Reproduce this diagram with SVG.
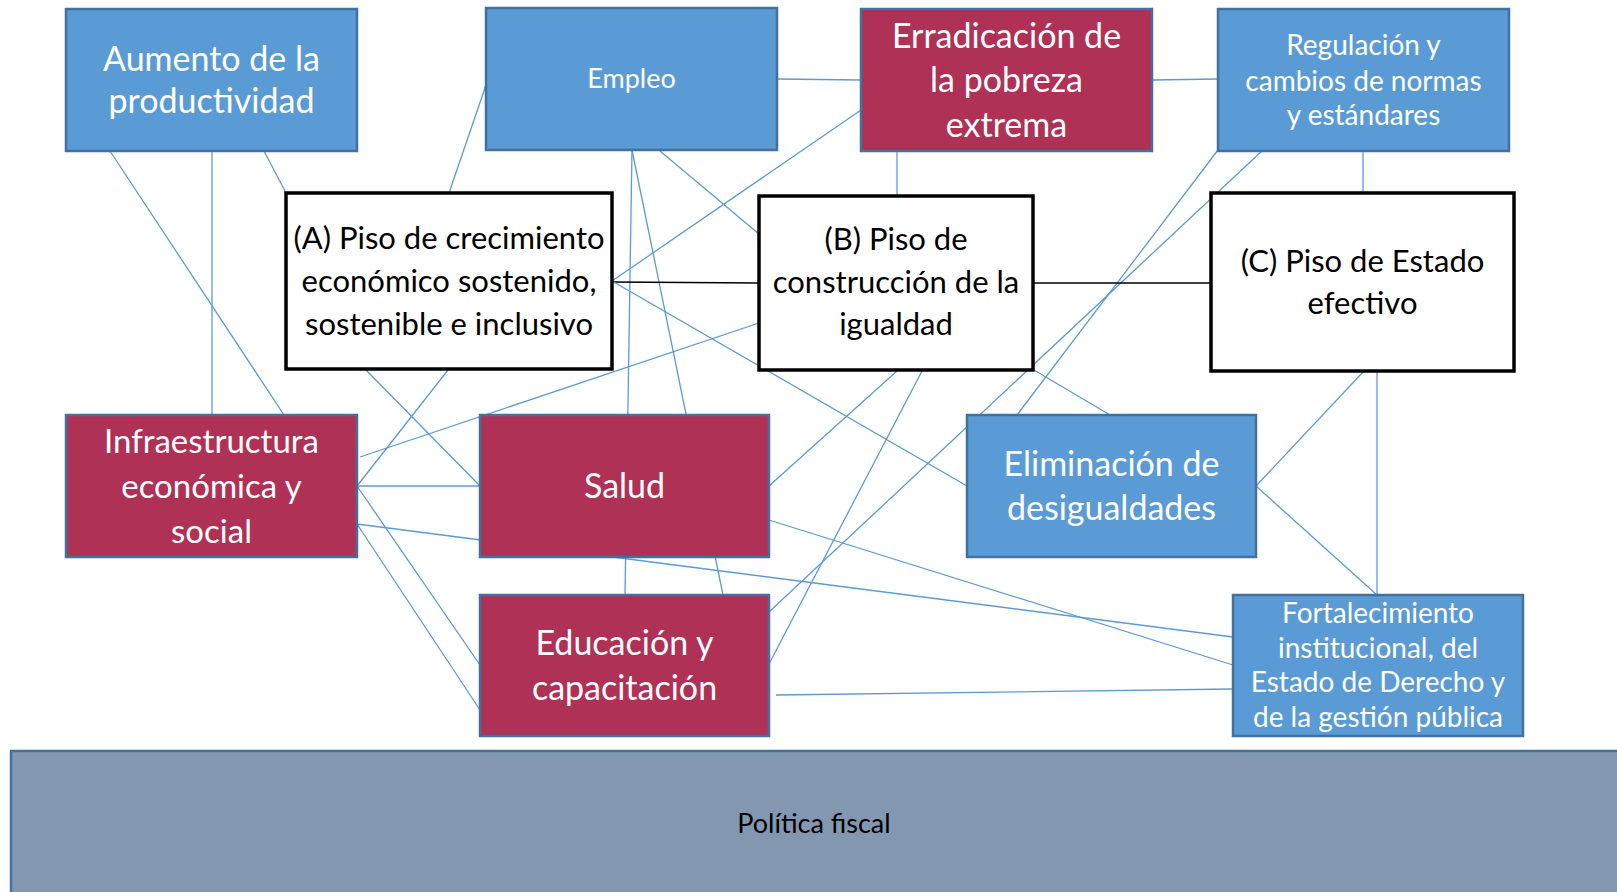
<svg xmlns="http://www.w3.org/2000/svg" width="1617" height="892" viewBox="0 0 1617 892">
<style>
.bl{fill:#5B9BD5;stroke:#41719C;stroke-width:2.5}
.rd{fill:#B03156;stroke:#41719C;stroke-width:2.5}
.wh{fill:#FFFFFF;stroke:#000000;stroke-width:3.5}
.gr{fill:#8497B0;stroke:#41719C;stroke-width:2.5}
text{font-family:Lato,"Liberation Sans",sans-serif;text-anchor:middle}
.tw{fill:#FFFFFF}
.tb{fill:#000000}
.c line{stroke:#5B9BD5;stroke-width:1.3}
.c line.k{stroke:#000000;stroke-width:1.5}
</style>
<rect width="1617" height="892" fill="#FFFFFF"/>
<g id="connectors" class="c">
<line x1="110" y1="151" x2="284" y2="415"/>
<line x1="212" y1="151" x2="212" y2="415"/>
<line x1="264" y1="151" x2="286" y2="193"/>
<line x1="486" y1="85" x2="449" y2="193"/>
<line x1="632" y1="150" x2="625" y2="595"/>
<line x1="632" y1="150" x2="723" y2="595"/>
<line x1="660" y1="151" x2="759" y2="234"/>
<line x1="777" y1="79" x2="862" y2="80"/>
<line x1="861" y1="110" x2="612" y2="281"/>
<line class="k" x1="612" y1="282" x2="759" y2="283"/>
<line x1="612" y1="281" x2="967" y2="486"/>
<line x1="365" y1="369" x2="480" y2="486"/>
<line x1="448" y1="370" x2="357" y2="486"/>
<line x1="759" y1="323" x2="360" y2="457"/>
<line x1="357" y1="486" x2="480" y2="486"/>
<line x1="357" y1="524" x2="1233" y2="637"/>
<line x1="357" y1="486" x2="480" y2="665"/>
<line x1="357" y1="524" x2="480" y2="710"/>
<line x1="769" y1="486" x2="897" y2="371"/>
<line x1="769" y1="520" x2="1233" y2="665"/>
<line x1="922" y1="371" x2="769" y2="664"/>
<line x1="1263" y1="150" x2="769" y2="612"/>
<line x1="1218" y1="150" x2="1017" y2="415"/>
<line x1="897" y1="151" x2="897" y2="196"/>
<line x1="1152" y1="80" x2="1218" y2="79"/>
<line class="k" x1="1033" y1="283" x2="1211" y2="283"/>
<line x1="1034" y1="370" x2="1110" y2="415"/>
<line x1="1363" y1="151" x2="1363" y2="193"/>
<line x1="1363" y1="372" x2="1256" y2="486"/>
<line x1="1377" y1="372" x2="1377" y2="595"/>
<line x1="1256" y1="486" x2="1377" y2="595"/>
<line x1="776" y1="695" x2="1233" y2="689"/>
</g>
<g id="aumento">
<rect class="bl" x="66" y="9" width="291" height="142"/>
<text class="tw" font-size="34" x="211.5" y="71">Aumento de la</text>
<text class="tw" font-size="34" x="211.5" y="113">productividad</text>
</g>
<g id="empleo">
<rect class="bl" x="486" y="8" width="291" height="142"/>
<text class="tw" font-size="27" x="631.5" y="88">Empleo</text>
</g>
<g id="erradicacion">
<rect class="rd" x="861" y="9" width="291" height="142"/>
<text class="tw" font-size="34" x="1006.5" y="48">Erradicación de</text>
<text class="tw" font-size="34" x="1006.5" y="92">la pobreza</text>
<text class="tw" font-size="34" x="1006.5" y="137">extrema</text>
</g>
<g id="regulacion">
<rect class="bl" x="1218" y="9" width="291" height="142"/>
<text class="tw" font-size="28" x="1363.5" y="55">Regulación y</text>
<text class="tw" font-size="28" x="1363.5" y="91">cambios de normas</text>
<text class="tw" font-size="28" x="1363.5" y="125">y estándares</text>
</g>
<g id="pisoA">
<rect class="wh" x="286" y="193" width="326" height="176"/>
<text class="tb" font-size="31" x="449" y="249">(A) Piso de crecimiento</text>
<text class="tb" font-size="31" x="449" y="292">económico sostenido,</text>
<text class="tb" font-size="31" x="449" y="335">sostenible e inclusivo</text>
</g>
<g id="pisoB">
<rect class="wh" x="759" y="196" width="274" height="174"/>
<text class="tb" font-size="31" x="896" y="250">(B) Piso de</text>
<text class="tb" font-size="31" x="896" y="293">construcción de la</text>
<text class="tb" font-size="31" x="896" y="335">igualdad</text>
</g>
<g id="pisoC">
<rect class="wh" x="1211" y="193" width="303" height="178"/>
<text class="tb" font-size="31" x="1362.5" y="272">(C) Piso de Estado</text>
<text class="tb" font-size="31" x="1362.5" y="314">efectivo</text>
</g>
<g id="infraestructura">
<rect class="rd" x="66" y="415" width="291" height="142"/>
<text class="tw" font-size="33" x="211.5" y="453">Infraestructura</text>
<text class="tw" font-size="33" x="211.5" y="498">económica y</text>
<text class="tw" font-size="33" x="211.5" y="543">social</text>
</g>
<g id="salud">
<rect class="rd" x="480" y="415" width="289" height="142"/>
<text class="tw" font-size="34" x="624.5" y="498">Salud</text>
</g>
<g id="eliminacion">
<rect class="bl" x="967" y="415" width="289" height="142"/>
<text class="tw" font-size="34" x="1111.5" y="476">Eliminación de</text>
<text class="tw" font-size="34" x="1111.5" y="520">desigualdades</text>
</g>
<g id="educacion">
<rect class="rd" x="480" y="595" width="289" height="141"/>
<text class="tw" font-size="34" x="624.5" y="655">Educación y</text>
<text class="tw" font-size="34" x="624.5" y="700">capacitación</text>
</g>
<g id="fortalecimiento">
<rect class="bl" x="1233" y="595" width="290" height="141"/>
<text class="tw" font-size="28" x="1378" y="623">Fortalecimiento</text>
<text class="tw" font-size="28" x="1378" y="658">institucional, del</text>
<text class="tw" font-size="28" x="1378" y="692">Estado de Derecho y</text>
<text class="tw" font-size="28" x="1378" y="727">de la gestión pública</text>
</g>
<g id="politica">
<rect class="gr" x="11" y="751" width="1612" height="146"/>
<text class="tb" font-size="27" x="814" y="833">Política fiscal</text>
</g>
</svg>
